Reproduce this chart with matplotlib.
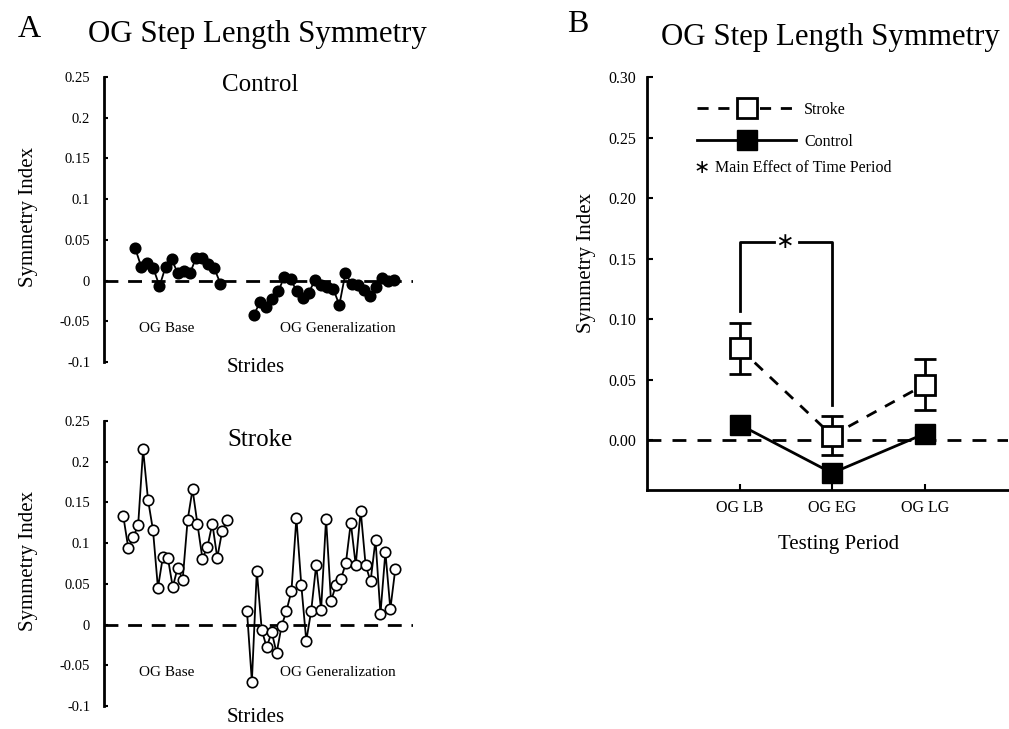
import numpy as np
import matplotlib.pyplot as plt

plt.rcParams['font.family'] = ['Liberation Serif', 'DejaVu Serif']

# ---- Panel A data (symmetry index per stride) ----
ctrl_base = [0.040, 0.017, 0.022, 0.015, -0.007, 0.017, 0.026, 0.009, 0.012, 0.009,
             0.028, 0.028, 0.020, 0.015, -0.004]
ctrl_gen = [-0.042, -0.026, -0.033, -0.023, -0.013, 0.005, 0.002, -0.013, -0.022, -0.015,
            0.001, -0.006, -0.008, -0.010, -0.030, 0.009, -0.004, -0.005, -0.012, -0.019,
            -0.008, 0.003, 0.000, 0.001]
stroke_base = [0.133, 0.094, 0.107, 0.122, 0.215, 0.153, 0.116, 0.045, 0.083, 0.082,
               0.046, 0.070, 0.055, 0.128, 0.166, 0.123, 0.081, 0.095, 0.124, 0.082,
               0.115, 0.128]
stroke_gen = [0.017, -0.070, 0.066, -0.007, -0.028, -0.009, -0.035, -0.002, 0.017, 0.041,
              0.131, 0.048, -0.020, 0.017, 0.073, 0.018, 0.130, 0.029, 0.048, 0.056,
              0.075, 0.125, 0.073, 0.140, 0.073, 0.053, 0.104, 0.013, 0.089, 0.019,
              0.068]

# ---- Panel B data (group means) ----
periods = ['OG LB', 'OG EG', 'OG LG']
stroke_means = [0.076, 0.004, 0.046]
stroke_err = [0.021, 0.016, 0.021]
ctrl_means = [0.013, -0.027, 0.0055]

left_yticks = [0.25, 0.2, 0.15, 0.1, 0.05, 0, -0.05, -0.1]
left_ylabels = ['0.25', '0.2', '0.15', '0.1', '0.05', '0', '-0.05', '-0.1']
right_yticks = [0.0, 0.05, 0.10, 0.15, 0.20, 0.25, 0.30]

fig = plt.figure(figsize=(10.09, 7.29), dpi=100)


def stride_panel(rect, base, gen, gen_start, xlim, filled, subtitle, sub_y, strides_y):
    ax = fig.add_axes(rect)
    xb = np.arange(len(base))
    xg = np.arange(len(gen)) + gen_start
    face = 'black' if filled else 'white'
    for xs, ys in [(xb, base), (xg, gen)]:
        ax.plot(xs, ys, color='black', lw=1.3, marker='o', ms=7.5,
                mfc=face, mec='black', mew=1.2, zorder=3)
    ax.axhline(0, color='black', lw=2, dashes=(5, 3.5), zorder=1)
    ax.set_xlim(*xlim)
    ax.set_ylim(-0.1, 0.25)
    ax.set_yticks(left_yticks)
    ax.set_yticklabels(left_ylabels)
    ax.tick_params(axis='y', direction='in', length=3, width=1.5, pad=10, labelsize=10.5)
    ax.set_xticks([])
    for s in ['top', 'right', 'bottom']:
        ax.spines[s].set_visible(False)
    ax.spines['left'].set_linewidth(2)
    ax.set_ylabel('Symmetry Index', fontsize=15, va='center')
    ax.yaxis.set_label_coords(-0.245, 0.508)
    ax.set_xlabel('Strides', fontsize=15, va='center')
    ax.xaxis.set_label_coords(0.49, strides_y)
    ax.text(0.505, sub_y, subtitle, transform=ax.transAxes, fontsize=18,
            ha='center', va='center')
    ax.text(0.204, 0.118, 'OG Base', transform=ax.transAxes, fontsize=11,
            ha='center', va='center')
    ax.text(0.756, 0.118, 'OG Generalization', transform=ax.transAxes, fontsize=11,
            ha='center', va='center')
    return ax


stride_panel([0.1031, 0.5034, 0.3063, 0.391], ctrl_base, ctrl_gen, 19.5,
             (-5.1, 45.6), True, 'Control', 0.972, -0.02)
stride_panel([0.1031, 0.0316, 0.3063, 0.391], stroke_base, stroke_gen, 25,
             (-3.9, 58.6), False, 'Stroke', 0.933, -0.04)

# ---- Panel B ----
ax3 = fig.add_axes([0.6412, 0.3278, 0.3578, 0.5665])
xp = np.arange(1, len(periods) + 1)
ax3.axhline(0, color='black', lw=2, dashes=(5, 4), zorder=1)
ax3.errorbar(xp, stroke_means, yerr=stroke_err, fmt='none', ecolor='black',
             elinewidth=2, capsize=8, capthick=2, zorder=2)
l_stroke, = ax3.plot(xp, stroke_means, color='black', lw=2, dashes=(4, 3.5),
                     marker='s', ms=14, mfc='white', mec='black', mew=2, zorder=3)
l_ctrl, = ax3.plot(xp, ctrl_means, color='black', lw=2, marker='s', ms=14,
                   mfc='black', mec='black', zorder=3)

# significance bracket between OG LB and OG EG
br_top = 0.164
ax3.plot([1, 1, 1.37], [0.107, br_top, br_top], color='black', lw=2)
ax3.plot([1.645, 2, 2], [br_top, br_top, 0.029], color='black', lw=2)
ax3.text(1.49, br_top, '\u2217', fontsize=16, family='DejaVu Sans',
         ha='center', va='center')

ax3.set_xlim(0, 3.9)
ax3.set_ylim(-0.041, 0.30)
ax3.set_xticks(xp)
ax3.set_xticklabels(periods)
ax3.set_yticks(right_yticks)
ax3.set_yticklabels(['%.2f' % v for v in right_yticks])
ax3.tick_params(direction='in', length=4, width=1.5, labelsize=11.5)
ax3.tick_params(axis='y', pad=8)
ax3.tick_params(axis='x', pad=7)
for s in ['top', 'right']:
    ax3.spines[s].set_visible(False)
for s in ['left', 'bottom']:
    ax3.spines[s].set_linewidth(2)
ax3.set_ylabel('Symmetry Index', fontsize=15, va='center')
ax3.yaxis.set_label_coords(-0.168, 0.55)
ax3.set_xlabel('Testing Period', fontsize=15, va='center')
ax3.xaxis.set_label_coords(0.53, -0.133)

ax3.legend([l_stroke, l_ctrl], ['Stroke', 'Control'], loc='upper left',
           bbox_to_anchor=(0.139, 0.94), frameon=False, borderpad=0,
           borderaxespad=0, handlelength=6.2, handletextpad=0.5,
           labelspacing=1.0, numpoints=1, fontsize=11.5)
ax3.text(0.130, 0.78, '\u2217', transform=ax3.transAxes, fontsize=14,
         family='DejaVu Sans', ha='left', va='center')
ax3.text(0.188, 0.78, 'Main Effect of Time Period', transform=ax3.transAxes,
         fontsize=11.5, ha='left', va='center')

# ---- figure titles ----
fig.text(0.029, 0.959, 'A', fontsize=23, ha='center', va='center')
fig.text(0.2547, 0.952, 'OG Step Length Symmetry', fontsize=22.2, ha='center', va='center')
fig.text(0.573, 0.967, 'B', fontsize=23, ha='center', va='center')
fig.text(0.8226, 0.948, 'OG Step Length Symmetry', fontsize=22.2, ha='center', va='center')

fig.savefig('out.png', dpi=100)
